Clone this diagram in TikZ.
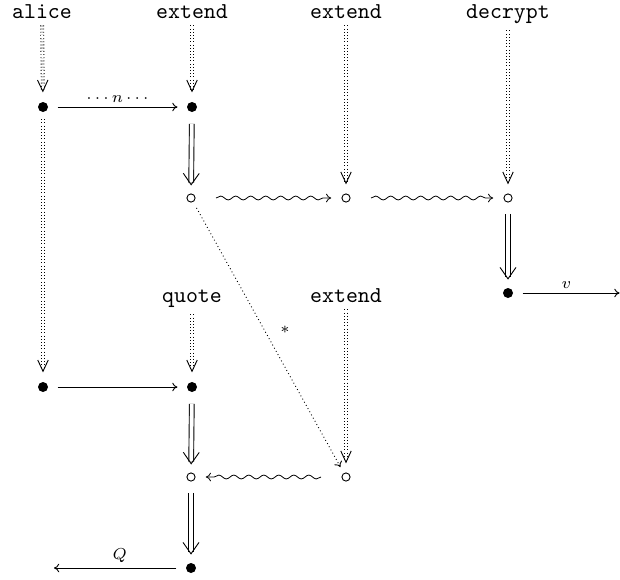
\documentclass[tikz,border=0pt]{standalone}
\usetikzlibrary{arrows.meta,decorations.pathmorphing,decorations.markings}
\begin{document}
\begin{tikzpicture}[x=0.44pt,y=-0.44pt,
  lbl/.style={font=\ttfamily, inner sep=0pt, anchor=base},
  bul/.style={circle, fill, inner sep=0pt, minimum size=4.4pt},
  circ/.style={circle, draw, line width=0.4pt, inner sep=0pt, minimum size=3.6pt},
  sarr/.style={line width=0.4pt, -{Computer Modern Rightarrow[length=2.3pt,width=3.8pt]}, shorten <=4pt, shorten >=4pt},
  headmark/.style n args={3}{postaction={decorate, decoration={markings,
      mark=at position -#1 with {\pgfsetinnerlinewidth{0pt}\pgfsetdash{}{0pt}%
        \arrow[line width=0.4pt]{Straight Barb[length=#2,width=#3]}}}}},
  dblarr/.style={line width=0.4pt, double, double distance=1.7pt, shorten <=5pt, shorten >=4.8pt,
      headmark={3.5pt}{5pt}{7pt}},
  dotarr/.style={line width=0.4pt, double, double distance=0.9pt, dash pattern=on 0.4pt off 1pt,
      shorten <=3pt, shorten >=5.3pt, headmark={4pt}{5pt}{4.6pt}},
  dotline/.style={line width=0.4pt, dash pattern=on 0.4pt off 1.2pt, -{Computer Modern Rightarrow[length=2.3pt,width=3.8pt]}, shorten <=3pt, shorten >=3pt},
  wavarr/.style={line width=0.35pt, decorate, decoration={snake, amplitude=0.85pt, segment length=6.6pt, pre=moveto, pre length=9pt, post=lineto, post length=5.5pt}, -{Computer Modern Rightarrow[length=2.3pt,width=3.8pt]}, shorten >=4.5pt},
  ml/.style={font=\scriptsize, inner sep=2pt}
]
\useasboundingbox (0,0) rectangle (620,579);
% top labels
\node[lbl] (alice) at (42,18) {alice};
\node[lbl] (ext1) at (192,18) {extend};
\node[lbl] (ext2) at (346,18) {extend};
\node[lbl] (dec) at (508,18) {decrypt};
% row 1
\node[bul] (a1) at (43,107) {};
\node[bul] (b1) at (192,107) {};
% row 2
\node[circ] (c2) at (191,198) {};
\node[circ] (d2) at (346,198) {};
\node[circ] (e2) at (508,198) {};
% row 3
\node[bul] (e3) at (508,293) {};
\coordinate (vend) at (619.5,293);
\node[lbl] (quote) at (192,302) {quote};
\node[lbl] (ext3) at (346,302) {extend};
% row 4
\node[bul] (a4) at (43,387) {};
\node[bul] (b4) at (192,387) {};
% row 5
\node[circ] (b5) at (191,477) {};
\node[circ] (d5) at (346,477) {};
% row 6
\node[bul] (b6) at (191,568) {};
\coordinate (qend) at (54,568);

% dotted double arrows
\draw[dotarr] (alice) -- (a1);
\draw[dotarr] (ext1) -- (b1);
\draw[dotarr] (ext2) -- (d2);
\draw[dotarr] (dec) -- (e2);
\draw[dotarr] (a1) -- (a4);
\draw[dotarr] (quote) -- (b4);
\draw[dotarr] (ext3) -- (d5);

% single arrows
\draw[sarr] (a1) -- node[ml, above] {$\cdots n\cdots$} (b1);
\draw[sarr, shorten >=0pt] (e3) -- node[ml, above] {$v$} (vend);
\draw[sarr] (a4) -- (b4);
\draw[sarr, shorten >=0pt] (b6) -- node[ml, above] {$Q$} (qend);

% double arrows
\draw[dblarr] (b1) -- (c2);
\draw[dblarr] (e2) -- (e3);
\draw[dblarr] (b4) -- (b5);
\draw[dblarr] (b5) -- (b6);

% wavy arrows
\draw[wavarr] (c2) -- (d2);
\draw[wavarr] (d2) -- (e2);
\draw[wavarr] (d5) -- (b5);

% dotted diagonal
\draw[dotline] (c2) -- node[ml, pos=0.47, right=5pt] {$*$} (d5);
\end{tikzpicture}
\end{document}
